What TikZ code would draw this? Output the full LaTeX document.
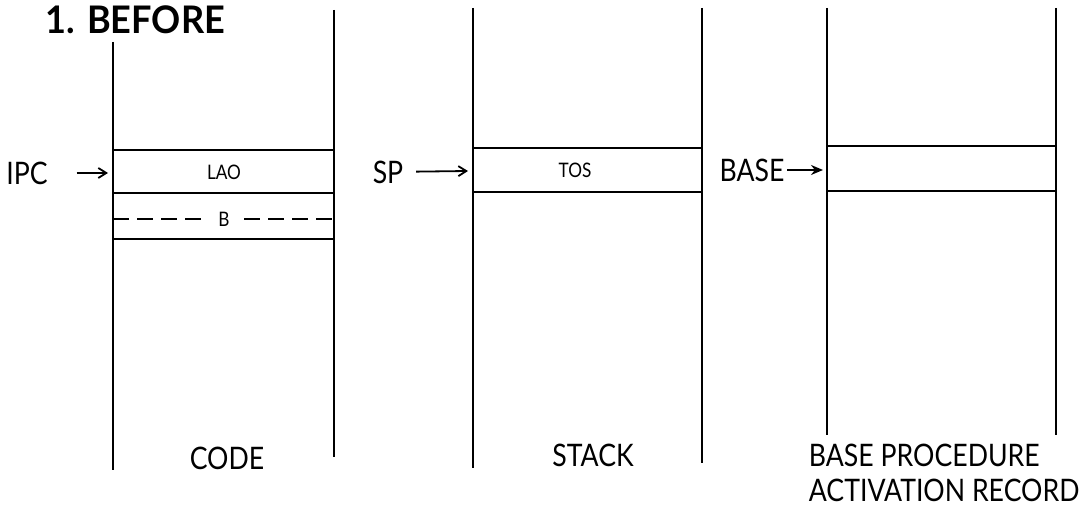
\documentclass[tikz,border=0pt]{standalone}
\usepackage{fontspec}
\setmainfont{Lato}[FakeStretch=0.86]
\newfontfamily\titlefont{Lato}[FakeStretch=0.95]
\usetikzlibrary{arrows.meta}

\begin{document}
\begin{tikzpicture}[x=0.5pt, y=-0.5pt, line width=0.9pt,
    lbl/.style={font=\fontsize{15.5}{17}\selectfont, inner sep=0pt},
    cell/.style={font=\fontsize{10}{11}\selectfont, inner sep=0pt},
    thin arrow/.style={-{Straight Barb[length=4pt, width=5pt]}},
    bold arrow/.style={-{Stealth[length=6pt, width=5pt]}}]

    \useasboundingbox (0,0) rectangle (1089,506);

    % --- title ---
    \node[font=\titlefont\fontsize{19}{20}\selectfont\bfseries, anchor=west, inner sep=0pt] (title) at (45,20) {1. BEFORE};

    % --- column walls ---
    \draw (113,42) -- (113,470);
    \draw (334,10) -- (334,457);
    \draw (473,8) -- (473,468);
    \draw (702,8) -- (702,463);
    \draw (827,8) -- (827,435);
    \draw (1056,8) -- (1056,435);

    % --- code segment ---
    \draw (113,150) -- (334,150);
    \draw (113,193) -- (334,193);
    \draw (113,239) -- (334,239);
    \node[cell] (lao) at (224,172) {LAO};
    \node[cell, inner xsep=7pt] (b) at (224,219) {B};
    \draw[dashed, dash pattern=on 8pt off 4pt] (113,219) -- (b.west);
    \draw[dashed, dash pattern=on 8pt off 4pt] (b.east) -- (334,219);

    % --- stack ---
    \draw (473,148) -- (702,148);
    \draw (473,192) -- (702,192);
    \node[cell] (tos) at (575,170) {TOS};

    % --- base activation record ---
    \draw (827,146) -- (1056,146);
    \draw (827,191) -- (1056,191);

    % --- pointers ---
    \coordinate (ipcend) at (108,173);
    \coordinate (spend)  at (468,171);
    \coordinate (baseend) at (823,170);
    \node[lbl] (ipc) at (27,173) {IPC};
    \node[lbl] (sp) at (388,172) {SP};
    \node[lbl] (base) at (752,170) {BASE};
    \draw[thin arrow, shorten <=14pt] (ipc) -- (ipcend);
    \draw[thin arrow, shorten <=6pt] (sp) -- (spend);
    \draw[bold arrow, shorten <=1pt] (base) -- (baseend);

    % --- captions ---
    \node[lbl] (code) at (227,458) {CODE};
    \node[lbl] (stack) at (593,455) {STACK};
    \node[lbl, anchor=west] (bpr) at (808,455) {BASE PROCEDURE};
    \node[lbl, anchor=west] (act) at (808,490) {ACTIVATION RECORD};

\end{tikzpicture}
\end{document}
